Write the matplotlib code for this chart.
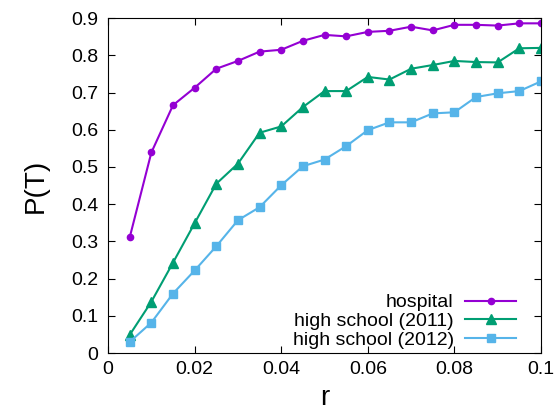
import numpy as np
import matplotlib
matplotlib.use("Agg")
import matplotlib.pyplot as plt

plt.rcParams['font.family'] = ['Liberation Sans', 'DejaVu Sans']

r = [0.005, 0.01, 0.015, 0.02, 0.025, 0.03, 0.035, 0.04, 0.045, 0.05,
     0.055, 0.06, 0.065, 0.07, 0.075, 0.08, 0.085, 0.09, 0.095, 0.1]
hospital = [0.311, 0.539, 0.666, 0.713, 0.764, 0.785, 0.810, 0.815, 0.839, 0.855,
            0.851, 0.863, 0.866, 0.877, 0.867, 0.882, 0.882, 0.880, 0.886, 0.886]
school_2011 = [0.049, 0.138, 0.243, 0.349, 0.455, 0.509, 0.592, 0.609, 0.661, 0.704,
               0.704, 0.742, 0.735, 0.764, 0.774, 0.785, 0.782, 0.781, 0.819, 0.820]
school_2012 = [0.030, 0.082, 0.160, 0.222, 0.287, 0.357, 0.392, 0.451, 0.502, 0.520,
               0.556, 0.599, 0.620, 0.620, 0.644, 0.647, 0.688, 0.698, 0.704, 0.730]

fig = plt.figure(figsize=(5.6, 4.12), dpi=100)
ax = fig.add_axes([0.193, 0.143, 0.773, 0.813])

ax.plot(r, hospital, color="#9400d3", marker="o", markersize=4.5, lw=1.5, label="hospital")
ax.plot(r, school_2011, color="#009e73", marker="^", markersize=6.5, lw=1.5, label="high school (2011)")
ax.plot(r, school_2012, color="#56b4e9", marker="s", markersize=5.5, lw=1.5, label="high school (2012)")

ax.set_xlim(0, 0.1)
ax.set_ylim(0, 0.9)
ax.set_xticks(np.arange(0, 0.101, 0.02))
ax.set_xticklabels(["0", "0.02", "0.04", "0.06", "0.08", "0.1"])
ax.set_yticks(np.arange(0, 0.91, 0.1))
ax.set_yticklabels(["0", "0.1", "0.2", "0.3", "0.4", "0.5", "0.6", "0.7", "0.8", "0.9"])
ax.tick_params(direction="in", top=True, right=True, labelsize=14, length=5)
ax.tick_params(axis="x", pad=6)
ax.tick_params(axis="y", pad=7)
ax.set_xlabel("r", fontsize=20, labelpad=5)
ax.set_ylabel("P(T)", fontsize=20, labelpad=16)

ax.legend(loc="lower right", bbox_to_anchor=(0.96, -0.01), frameon=False, markerfirst=False,
          fontsize=14, handlelength=2.6, labelspacing=0.05, borderaxespad=0, handletextpad=0.6)

fig.savefig("out.png", dpi=100)
